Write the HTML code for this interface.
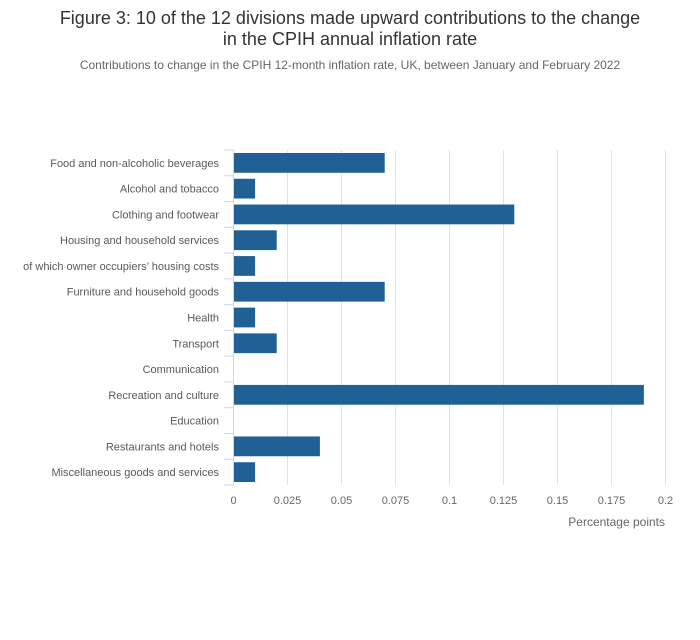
<!DOCTYPE html>
<html><head><meta charset="utf-8"><style>
body{margin:0;background:#fff;font-family:"Liberation Sans",sans-serif;}
</style></head><body>
<svg width="700" height="635" xmlns="http://www.w3.org/2000/svg" id="chart">
<text x="350" y="24" text-anchor="middle" font-size="18" fill="#333">Figure 3: 10 of the 12 divisions made upward contributions to the change</text>
<text x="350" y="45" text-anchor="middle" font-size="18" fill="#333">in the CPIH annual inflation rate</text>
<text x="350" y="69" text-anchor="middle" font-size="12" fill="#666">Contributions to change in the CPIH 12-month inflation rate, UK, between January and February 2022</text>
<g id="grid"></g><g id="bars"></g><g id="axes"></g>
<text x="665" y="526" text-anchor="end" font-size="12" fill="#666">Percentage points</text>
</svg>
<script>
const categories=["Food and non-alcoholic beverages","Alcohol and tobacco","Clothing and footwear","Housing and household services","of which owner occupiers’ housing costs","Furniture and household goods","Health","Transport","Communication","Recreation and culture","Education","Restaurants and hotels","Miscellaneous goods and services"];
const values=[0.07,0.01,0.13,0.02,0.01,0.07,0.01,0.02,0,0.19,0,0.04,0.01];
const ticks=[0,0.025,0.05,0.075,0.1,0.125,0.15,0.175,0.2];
const tickLabels=["0","0.025","0.05","0.075","0.1","0.125","0.15","0.175","0.2"];
const NS="http://www.w3.org/2000/svg";
const x0=233.5,x1=665.5,plotTop=150,plotBot=485;
const xs=v=>x0+(v-0)/(0.2-0)*(x1-x0);
const rowH=(plotBot-plotTop)/categories.length;
const ys=i=>plotTop+i*rowH;
function mk(t,a,p){const e=document.createElementNS(NS,t);for(const k in a)e.setAttribute(k,a[k]);p.appendChild(e);return e;}
const g=document.getElementById('grid'),b=document.getElementById('bars'),ax=document.getElementById('axes');
ticks.forEach((t,i)=>{
 if(i>0){const l=mk('line',{x1:xs(t),x2:xs(t),y1:plotTop,y2:plotBot,stroke:'#e2e2e2','stroke-width':1},g);
 
 }
 const tx=mk('text',{x:xs(t),y:504,'text-anchor':'middle','font-size':11,fill:'#666'},ax);
 tx.textContent=tickLabels[i];
 
 
});
categories.forEach((c,i)=>{
 const r=mk('rect',{x:xs(0),y:ys(i)+3,width:Math.max(0,xs(values[i])-xs(0)),height:rowH-6,fill:'#206095'},b);
 
 
 const t=mk('text',{x:219,y:ys(i)+rowH/2+4,'text-anchor':'end','font-size':11,fill:'#595959'},ax);
 t.textContent=c;
 
 
});
for(let i=0;i<=categories.length;i++){
 const tk=mk('line',{x1:224,x2:x0,y1:ys(i),y2:ys(i),stroke:'#ccd6eb','stroke-width':1},ax);
 
 
}
const al=mk('line',{x1:x0,x2:x0,y1:plotTop,y2:plotBot,stroke:'#ccd6eb','stroke-width':1},ax);


</script>
</body></html>
